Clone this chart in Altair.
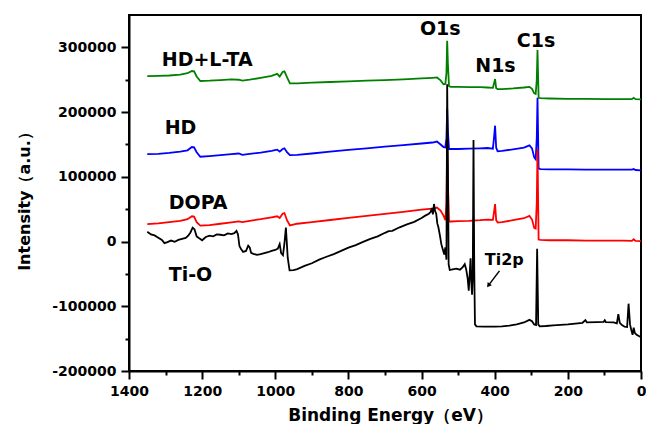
import altair as alt
import pandas as pd

# ---------------- data ----------------
COMMON_E = [1350, 1320, 1290, 1260, 1240, 1228, 1222, 1215, 1205, 1180,
            1150, 1120, 1100, 1090, 1070, 1040, 1010, 995, 988, 980,
            975, 968, 960, 940, 900, 850, 800, 750, 700, 650,
            600, 570, 558, 548, 540, 535, 532, 530, 528, 525,
            520, 500, 470, 440, 420, 405, 402, 399, 396, 392,
            380, 350, 320, 305, 298, 292, 288, 285, 283, 280,
            275, 250, 200, 150, 100, 50, 25, 20, 15, 0]

HDLTA_I = [255500, 256000, 256500, 258000, 260000, 263500, 263000, 255000, 248000, 248500,
           249500, 250500, 250000, 248500, 250000, 253000, 256000, 259000, 255000, 262000,
           263000, 254000, 244500, 244500, 245500, 246500, 247500, 248500, 249500, 250500,
           252000, 253000, 253500, 249000, 243000, 243500, 260000, 310000, 275000, 240000,
           239000, 239000, 238500, 238500, 238000, 237500, 244000, 251000, 237000, 235500,
           235500, 236500, 238000, 239000, 236000, 229000, 228000, 250000, 296000, 222000,
           221500, 221000, 220500, 220500, 220000, 220000, 220000, 222000, 220000, 219500]

HD_I = [135000, 135500, 137000, 139000, 141000, 146000, 145500, 138000, 131000, 132000,
        133500, 135000, 136000, 134000, 135500, 137500, 140000, 142000, 139000, 143000,
        144000, 138000, 133500, 134000, 136000, 139000, 141500, 144000, 146500, 149000,
        151500, 153000, 154500, 150000, 146000, 145500, 160000, 205000, 170000, 143000,
        143000, 143000, 143500, 144000, 144500, 143500, 160000, 179000, 145000, 139500,
        140000, 142500, 145000, 148500, 144000, 130000, 127000, 160000, 222000, 113000,
        112000, 111500, 111500, 111000, 111000, 111000, 111000, 112000, 110500, 110000]

DOPA_I = [26800, 28000, 30000, 32000, 34500, 39000, 38500, 30000, 24500, 25500,
          27500, 29500, 31000, 30000, 32000, 34500, 37500, 39000, 36500, 43000,
          44000, 33000, 25000, 27500, 30000, 33300, 36500, 39700, 42900, 46000,
          49200, 51000, 52500, 48000, 40000, 33000, 60000, 143000, 90000, 31000,
          31000, 31500, 32000, 33000, 34000, 33500, 45000, 58000, 33000, 29500,
          30000, 33000, 36000, 39500, 34000, 21000, 20000, 60000, 143000, 3000,
          2500, 2000, 2000, 1500, 1500, 1500, 1000, 3500, 1000, 500]

TIO_E = [1350, 1340, 1330, 1320, 1310, 1303, 1295, 1285, 1275, 1265,
         1255, 1245, 1238, 1232, 1226, 1221, 1215, 1208, 1200, 1190,
         1180, 1170, 1160, 1150, 1140, 1130, 1120, 1112, 1106, 1102,
         1098, 1094, 1088, 1080, 1074, 1070, 1066, 1060, 1050, 1040,
         1030, 1020, 1010, 1000, 993, 988, 984, 979, 975, 971,
         966, 961, 950, 940, 920, 900, 880, 860, 840, 820,
         800, 780, 760, 740, 720, 700, 690, 680, 660, 640,
         620, 600, 590, 580, 575, 572, 569, 566, 563, 560,
         557, 554, 550, 546, 542, 538, 535, 532, 530, 528,
         526, 523, 515, 505, 495, 488, 482, 478, 474, 471,
         468, 466, 464, 462, 460, 458, 456, 454, 450, 430,
         400, 380, 360, 340, 320, 305, 298, 292, 287, 284,
         281, 277, 260, 240, 200, 160, 152, 148, 120, 102,
         99, 96, 75, 66, 62, 58, 52, 45, 38, 34,
         30, 26, 23, 20, 17, 12, 6, 0]

TIO_I = [15000, 11000, 9500, 6000, 2500, -2500, -1000, 1500, -500, 2500,
         4000, 5500, 9000, 14000, 21500, 19000, 8000, 5000, 2000, 7000,
         9000, 8000, 11000, 10500, 9500, 12500, 11500, 13000, 16500, 11000,
         -7000, -11000, -16000, -14500, -6500, -9000, -17500, -19000, -20500, -19500,
         -18000, -16500, -14500, -13000, -11000, -4000, -18000, -21000, -3000, 21500,
         -25000, -44500, -44000, -42500, -37500, -33500, -28000, -23500, -19500, -14500,
         -9500, -5500, -500, 4000, 8000, 13500, 16000, 16500, 22000, 26500,
         30500, 36500, 40000, 43000, 46000, 52000, 42000, 58000, 47000, 43000,
         28000, 22000, 10000, -4000, -12000, -20000, -9000, -28000, 243000, 120000,
         -35000, -44000, -43000, -42000, -43500, -40000, -35000, -43000, -57000, -76000,
         -46000, -26000, -62000, -82000, -52000, 157000, -40000, -128000, -131000, -131500,
         -131500, -131000, -130000, -128000, -125000, -121000, -123000, -128000, -129000, -11000,
         -128000, -131000, -130500, -129500, -128000, -125500, -121500, -125000, -124500, -124000,
         -121500, -124500, -125000, -126500, -112000, -125500, -129000, -131500, -132000, -96000,
         -128000, -138000, -144000, -133000, -141000, -144000, -146000, -148000]

SERIES_LABELS = ["HD+L-TA", "HD", "DOPA", "Ti-O"]
SERIES_LABEL_E = [1186, 1259, 1211, 1232]
SERIES_LABEL_I = [270700, 166600, 49700, -61000]

PEAK_LABELS = ["O1s", "N1s", "C1s"]
PEAK_LABEL_E = [549, 398, 287]
PEAK_LABEL_I = [319000, 261600, 301200]

TI2P_LABEL = ["Ti2p"]
TI2P_E = [374]
TI2P_I = [-35700]

ARROW_E = [387]
ARROW_I = [-45300]
ARROW_E2 = [416]
ARROW_I2 = [-67000]

# ---------------- chart ----------------
def series_df(E, I):
    return pd.DataFrame({"E": E, "I": I, "k": list(range(len(E)))})

xscale = alt.Scale(domain=[0, 1400], reverse=True, nice=False, zero=False)
yscale = alt.Scale(domain=[-200000, 350000], nice=False, zero=False)

xaxis = alt.Axis(
    values=list(range(0, 1401, 100)),
    labelExpr="datum.value % 200 === 0 ? '' + datum.value : ''",
    tickSize={"condition": {"test": "datum.value % 200 === 0", "value": 8}, "value": 4},
    title="Binding Energy（eV）",
    titleX=261, titleY=49, titleAlign="center", titleBaseline="alphabetic",
    titleFontSize=17, labelPadding=5, labelBaseline="top",
)
yaxis = alt.Axis(
    values=list(range(-200000, 300001, 50000)),
    labelExpr="datum.value % 100000 === 0 ? '' + datum.value : ''",
    tickSize={"condition": {"test": "datum.value % 100000 === 0", "value": 8}, "value": 4},
    title="Intensity（a.u.）",
    titleX=-100, titleY=182, titleAlign="center", titleBaseline="alphabetic",
    titleFontSize=16, labelPadding=5,
)

def X(field):
    return alt.X(field, scale=xscale, axis=xaxis)

def Y(field):
    return alt.Y(field, scale=yscale, axis=yaxis)

def line_layer(df, color):
    return alt.Chart(df).mark_line(color=color, strokeWidth=1.8).encode(
        x=X("E:Q"), y=Y("I:Q"), order="k:Q",
    )

green = line_layer(series_df(COMMON_E, HDLTA_I), "#008000")
blue = line_layer(series_df(COMMON_E, HD_I), "#0000ff")
red = line_layer(series_df(COMMON_E, DOPA_I), "#ff0000")
black = line_layer(series_df(TIO_E, TIO_I), "#000000")

def text_layer(labels, E, I, size):
    df = pd.DataFrame({"label": labels, "E": E, "I": I})
    return alt.Chart(df).mark_text(
        font="DejaVu Sans", fontWeight="bold", fontSize=size,
        align="center", baseline="alphabetic", color="black",
    ).encode(x=X("E:Q"), y=Y("I:Q"), text="label:N")

series_text = text_layer(SERIES_LABELS, SERIES_LABEL_E, SERIES_LABEL_I, 19)
peak_text = text_layer(PEAK_LABELS, PEAK_LABEL_E, PEAK_LABEL_I, 19)
ti2p_text = text_layer(TI2P_LABEL, TI2P_E, TI2P_I, 16)

arrow_df = pd.DataFrame({"E": ARROW_E, "I": ARROW_I, "E2": ARROW_E2, "I2": ARROW_I2})
arrow_line = alt.Chart(arrow_df).mark_rule(color="black", strokeWidth=1.5).encode(
    x=X("E:Q"), y=Y("I:Q"), x2="E2:Q", y2="I2:Q",
)
arrow_head = alt.Chart(arrow_df).mark_point(
    shape="triangle", filled=True, size=28, angle=217, color="black", opacity=1,
).encode(x=X("E2:Q"), y=Y("I2:Q"))

chart = alt.layer(
    green, blue, red, black, series_text, peak_text, ti2p_text, arrow_line, arrow_head
).properties(
    width=512, height=356,
    autosize=alt.AutoSizeParams(type="none"),
    padding={"left": 121, "top": 7, "right": 5, "bottom": 53},
).configure_view(
    stroke="black", strokeWidth=2,
).configure_axis(
    labelFont="DejaVu Sans", labelFontWeight="bold", labelFontSize=14, labelColor="black",
    titleFont="DejaVu Sans", titleFontWeight="bold", titleColor="black",
    domainColor="black", domainWidth=2, tickColor="black", tickWidth=2,
    grid=False, labelFlush=False, labelOverlap=False,
)

chart.save("out.html", embed_options={"renderer": "svg", "actions": False})
